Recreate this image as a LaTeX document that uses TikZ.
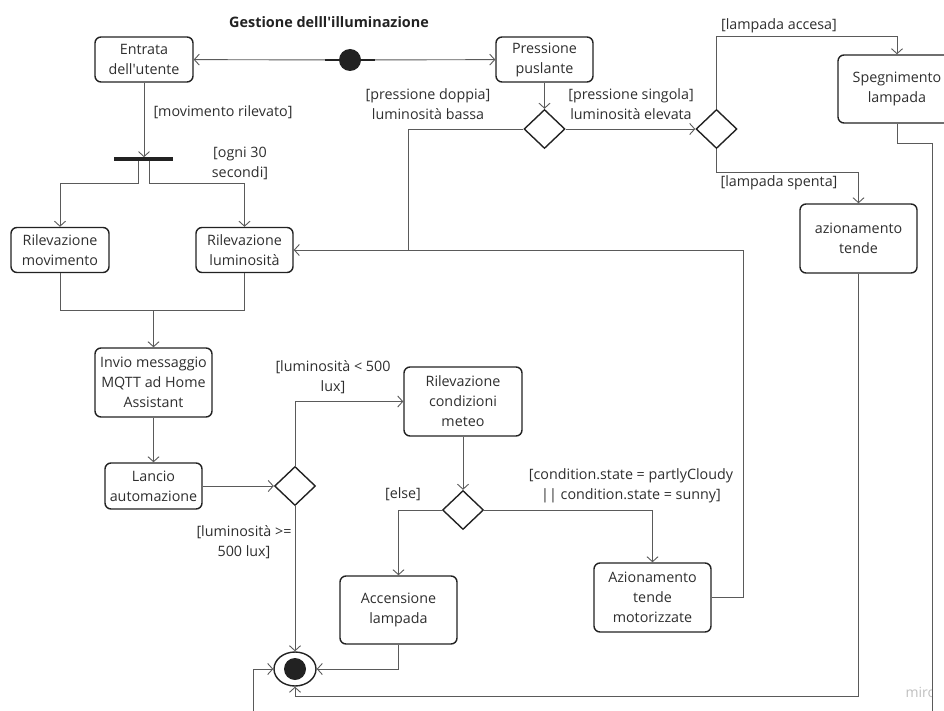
\documentclass[tikz,border=0pt]{standalone}
\usepackage{fontspec}
\setmainfont{Open Sans}
\usetikzlibrary{arrows.meta,shapes.geometric}

\definecolor{ink}{HTML}{222222}
\definecolor{wire}{HTML}{5A5A5A}
\definecolor{txt}{HTML}{2E2E2E}

\begin{document}
\begin{tikzpicture}[x=1pt,y=-1pt,
  font=\fontsize{14.3}{20}\selectfont,
  text=txt,
  act/.style={draw=ink, line width=1.4pt, rounded corners=6pt, align=center, inner sep=0pt},
  dec/.style={draw=ink, line width=1.4pt, diamond, minimum width=41pt, minimum height=39pt, inner sep=0pt},
  flow/.style={draw=wire, line width=0.9pt, -{Straight Barb[length=5pt,width=11pt]}},
  link/.style={draw=wire, line width=0.9pt},
  guard/.style={align=center, inner sep=0pt}
]
\useasboundingbox (0,0) rectangle (944,711);
\clip (0,0) rectangle (944,711);

% title
\node[font=\fontsize{14.4}{20}\selectfont\bfseries, text=ink] (title) at (329,22) {Gestione delll\textquotesingle illuminazione};

% watermark, cut off at the right-hand return line
\begin{scope}
  \clip (0,0) rectangle (932,711);
  \node[text=black!25, font=\fontsize{14}{16}\selectfont, anchor=west] (wm) at (902,692) {miro};
\end{scope}

% start / end
\node[circle, fill=ink, minimum size=22pt, inner sep=0pt] (start) at (350,60) {};
\node[ellipse, draw=ink, line width=1.4pt, minimum width=42pt, minimum height=34pt, inner sep=0pt] (final) at (295,669) {};
\node[circle, fill=ink, minimum size=22pt, inner sep=0pt] (finaldot) at (295,669) {};

% actions
\node[act, minimum width=98pt, minimum height=45pt] (entrata) at (144,59.5) {Entrata\\dell\textquotesingle utente};
\node[act, minimum width=97pt, minimum height=45pt] (pressione) at (544.5,59.5) {Pressione\\puslante};
\node[act, minimum width=118pt, minimum height=68pt] (speg) at (897,89) {Spegnimento\\lampada};
\node[act, minimum width=117pt, minimum height=69pt] (azt) at (858.5,238.5) {azionamento\\tende};
\node[act, minimum width=98pt, minimum height=45pt] (rilmov) at (60,250) {Rilevazione\\movimento};
\node[act, minimum width=97pt, minimum height=45pt] (rillum) at (244.5,250) {Rilevazione\\luminosità};
\node[act, minimum width=117pt, minimum height=69pt] (invio) at (153.5,382.5) {Invio messaggio\\MQTT ad Home\\Assistant};
\node[act, minimum width=97pt, minimum height=46pt] (lancio) at (153.5,486) {Lancio\\automazione};
\node[act, minimum width=118pt, minimum height=69pt] (meteo) at (463,401.5) {Rilevazione\\condizioni\\meteo};
\node[act, minimum width=117pt, minimum height=68pt] (acc) at (398.5,610) {Accensione\\lampada};
\node[act, minimum width=117pt, minimum height=69pt] (aztm) at (652.5,597.5) {Azionamento\\tende\\motorizzate};

% fork bar
\node[fill=ink, minimum width=59pt, minimum height=3.2pt, inner sep=0pt] (fork) at (143.5,159) {};

% decisions
\node[dec] (d1) at (544.5,129) {};
\node[dec] (d2) at (716.5,129) {};
\node[dec] (d3) at (295,486) {};
\node[dec] (d4) at (463,510) {};

% bend points
\coordinate (merge) at (153.5,310);
\coordinate (join) at (408,250);
\coordinate (loopR) at (743,250);
\coordinate (accR) at (897,36);
\coordinate (spR) at (858.5,172);
\coordinate (sp1) at (932,143);
\coordinate (sp2) at (932,730);
\coordinate (sp3) at (253,730);
\coordinate (az1) at (858.5,696);

% flows
\draw[flow] (start) -- (entrata);
\draw[flow] (start) -- (pressione);
\draw[ink, line width=1.3pt] ([xshift=-25]start.center) -- ([xshift=25]start.center);
\draw[flow] (entrata.south) -- (entrata.south |- fork.north);
\draw[flow] ([xshift=-5.5]fork.south) -- ++(0,23) -| (rilmov.north);
\draw[flow] ([xshift=5.5]fork.south) -- ++(0,23) -| (rillum.north);
\draw[link] (rilmov.south) |- (merge);
\draw[link] (rillum.south) |- (merge);
\draw[flow] (merge) -- (invio.north);
\draw[flow] (invio) -- (lancio);
\draw[flow] (lancio) -- (d3);
\draw[flow] (d3.north) |- (meteo.west);
\draw[flow] (d3.south) -- (final.north);
\draw[flow] (meteo) -- (d4);
\draw[flow] (d4.west) -| (acc.north);
\draw[flow] (d4.east) -| (aztm.north);
\draw[flow] (acc.south) |- (final.east);
\draw[flow] (aztm.east) -| (loopR) -- (rillum.east);
\draw[link] (d1.west) -| (join);
\draw[flow] (pressione) -- (d1);
\draw[flow] (d1) -- (d2);
\draw[flow] (d2.north) |- (accR) -- (speg.north);
\draw[flow] (d2.south) |- (spR) -- (azt.north);
\draw[flow] (speg.south) |- (sp1) -- (sp2) -- (sp3) |- (final.west);
\draw[flow] (azt.south) -- (az1) -| (final.south);

% guards
\node[guard] (g1) at (223,112) {[movimento rilevato]};
\node[guard] (g2) at (240,163) {[ogni 30\\secondi]};
\node[guard] (g3) at (428,104) {[pressione doppia]\\luminosità bassa};
\node[guard] (g4) at (631,104) {[pressione singola]\\luminosità elevata};
\node[guard] (g5) at (779,26) {[lampada accesa]};
\node[guard] (g6) at (779,183) {[lampada spenta]};
\node[guard] (g7) at (333,377) {[luminosità < 500\\lux]};
\node[guard] (g8) at (244,542) {[luminosità >=\\500 lux]};
\node[guard] (g9) at (403,494) {[else]};
\node[guard] (g10) at (631,486) {[condition.state = partlyCloudy\\|| condition.state = sunny]};
\end{tikzpicture}
\end{document}
